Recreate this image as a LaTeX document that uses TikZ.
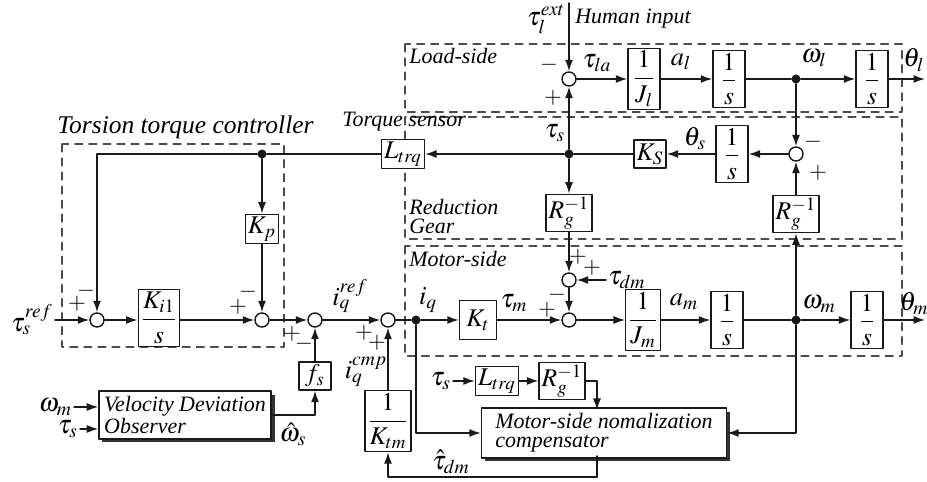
\documentclass[tikz,border=0pt]{standalone}
\usepackage{amsmath}
\usepackage{mathptmx}
\usepackage{fontspec}
\setmainfont{Liberation Serif}
\usepackage{tikz}
\usetikzlibrary{arrows.meta,shadows}
\tikzset{
every picture/.style={line cap=round,line join=round},
>={Latex[length=2.3mm,width=1.6mm]},
wire/.style={draw=black!90, line width=0.85pt},
sig/.style={wire, ->},
blk/.style={
  draw=black!90,
  line width=0.8pt,
  fill=white,
  inner sep=1.5pt,
  minimum width=0.64cm,
  minimum height=0.56cm,
  font=\fontsize{14.5}{14.5}\selectfont
},
sumnode/.style={circle, draw=black!90, line width=0.8pt, fill=white, minimum size=0.28cm, inner sep=0pt},
dotnode/.style={circle, fill=black!90, minimum size=0.18cm, inner sep=0pt},
region/.style={draw=black!70, line width=0.6pt, dash pattern=on 4.5pt off 3.5pt},
region label/.style={font=\itshape\fontsize{12.5}{10.5}\selectfont, inner sep=0pt, align=left},
sig label/.style={font=\fontsize{15}{15}\selectfont, inner sep=1pt},
sgn/.style={font=\fontsize{13}{13}\selectfont, inner sep=0pt},
shadow box/.style={
  draw=black!90,
  line width=0.8pt,
  fill=white,
  align=left,
  inner sep=3pt,
  font=\itshape\fontsize{12.5}{11}\selectfont,
  drop shadow={shadow xshift=0.07cm, shadow yshift=-0.07cm, opacity=1, fill=black!80}
}
}

\begin{document}
\begin{tikzpicture}[x=0.02cm,y=-0.02cm]
\useasboundingbox (0,0) rectangle (927,482);
% dashed regions
\draw[region] (62,144) rectangle (284,347);
\draw[region] (405,44) rectangle (902,112);
\draw[region] (405,117) rectangle (902,239);
\draw[region] (405,246) rectangle (902,356);
\node[region label,anchor=base west,font=\itshape\fontsize{14.5}{14.5}\selectfont] (lbtor) at (57,134) {Torsion torque controller};
\node[region label,anchor=base west] (lbsen) at (342,127) {Torque sensor};
\node[region label,anchor=base west] (lbload) at (409,64) {Load-side};
\node[region label,anchor=north west] (lbgear) at (409,199) {Reduction\\Gear};
\node[region label,anchor=base west] (lbmot) at (409,267) {Motor-side};
\node[region label,anchor=base west] (lbhum) at (575,24) {Human input};

% load side
\coordinate (extin) at (569,3);
\node[sumnode] (ls) at (569,79) {};
\node[blk] (jl) at (644,79) {$\dfrac{1}{J_l}$};
\node[blk] (il) at (729,79) {$\dfrac{1}{s}$};
\node[dotnode] (dwl) at (796,79) {};
\node[blk] (ithl) at (872,79) {$\dfrac{1}{s}$};
\coordinate (thlout) at (925,79);

% reduction gear
\node[blk] (lt1) at (403,154) {$L_{trq}$};
\node[dotnode] (dkp) at (262,154) {};
\node[dotnode] (dts) at (569,154) {};
\node[blk] (ks) at (650,154) {$K_S$};
\node[blk] (is) at (732,154) {$\dfrac{1}{s}$};
\node[sumnode] (sr) at (796,154) {};
\node[blk] (rg1) at (569,213) {$R_g^{-1}$};
\node[blk] (rg2) at (796,214) {$R_g^{-1}$};

% motor side and controller
\node[sumnode] (sd) at (569,280) {};
\node[sig label,anchor=west] (tdmin) at (606,280) {$\tau_{dm}$};
\node[sig label,anchor=east] (tsref) at (55,320) {$\tau_s^{ref}$};
\node[sumnode] (s1) at (97,320) {};
\node[blk] (ki) at (159,318) {$\dfrac{K_{i1}}{s}$};
\node[blk] (kp) at (262,229) {$K_p$};
\node[sumnode] (s2) at (262,320) {};
\node[sumnode] (s3) at (315,320) {};
\node[sumnode] (s4) at (388,320) {};
\node[dotnode] (diq) at (416,320) {};
\node[blk,minimum height=0.78cm,minimum width=0.74cm] (kt) at (478,320) {$K_t$};
\node[sumnode] (sm) at (569,320) {};
\node[blk] (jm) at (643,320) {$\dfrac{1}{J_m}$};
\node[blk] (im) at (727,320) {$\dfrac{1}{s}$};
\node[dotnode] (dwm) at (796,320) {};
\node[blk] (ithm) at (867,320) {$\dfrac{1}{s}$};
\coordinate (thmout) at (925,320);

% compensation
\node[blk] (fs) at (315,376) {$f_s$};
\node[blk] (ktm) at (388,421) {$\dfrac{1}{K_{tm}}$};
\node[shadow box,minimum width=3.2cm,minimum height=0.92cm] (obs) at (185,415) {Velocity Deviation\\Observer};
\node[sig label,anchor=east] (wmo) at (74,407) {$\omega_m$};
\node[sig label,anchor=east] (tso) at (80,429) {$\tau_s$};
\node[sig label,anchor=east] (tsl) at (453,381) {$\tau_s$};
\node[blk] (lt2) at (497,381) {$L_{trq}$};
\node[blk] (rg3) at (562,381) {$R_g^{-1}$};
\node[shadow box,minimum width=4.9cm,minimum height=0.92cm] (cmp) at (604,433) {Motor-side nomalization\\compensator};
\coordinate (cmpin) at (597,410);
\coordinate (cmpout) at (597,456);
\coordinate (tdmc) at (597,477);

% signal labels
\node[sig label,anchor=north east] at (567,3) {$\tau_l^{ext}$};
\node[sig label] at (597,63) {$\tau_{la}$};
\node[sig label] at (681,62) {$a_l$};
\node[sig label] at (814,58) {$\omega_l$};
\node[sig label] at (914,60) {$\theta_l$};
\node[sig label] at (555,133) {$\tau_s$};
\node[sig label] at (695,139) {$\theta_s$};
\node[sig label] at (514,303) {$\tau_m$};
\node[sig label] at (684,302) {$a_m$};
\node[sig label] at (819,304) {$\omega_m$};
\node[sig label] at (914,304) {$\theta_m$};
\node[sig label] at (350,296) {$i_q^{ref}$};
\node[sig label] at (428,300) {$i_q$};
\node[sig label] at (366,372) {$i_q^{cmp}$};
\node[sig label] at (293,434) {$\hat{\omega}_s$};
\node[sig label] at (451,462) {$\hat{\tau}_{dm}$};

% signs
\node[sgn] at (77,304) {$+$};
\node[sgn] at (86,291) {$-$};
\node[sgn] at (238,307) {$+$};
\node[sgn] at (248,292) {$-$};
\node[sgn] at (292,334) {$+$};
\node[sgn] at (304,344) {$-$};
\node[sgn] at (364,333) {$+$};
\node[sgn] at (377,343) {$+$};
\node[sgn] at (547,310) {$+$};
\node[sgn] at (557,295) {$-$};
\node[sgn] at (578,257) {$+$};
\node[sgn] at (592,268) {$+$};
\node[sgn] at (549,65) {$-$};
\node[sgn] at (553,98) {$+$};
\node[sgn] at (813,142) {$-$};
\node[sgn] at (818,173) {$+$};

% load side connectors
\draw[sig] (extin) -- (ls);
\draw[sig] (ls) -- (jl);
\draw[sig] (jl) -- (il);
\draw[wire] (il) -- (dwl);
\draw[sig] (dwl) -- (ithl);
\draw[sig] (ithl) -- (thlout);
\draw[sig] (dwl) -- (sr);

% reduction gear connectors
\draw[sig] (rg2) -- (sr);
\draw[sig] (sr) -- (is);
\draw[sig] (is) -- (ks);
\draw[wire] (ks) -- (dts);
\draw[sig] (dts) -- (lt1);
\draw[sig] (dts) -- (ls);
\draw[sig] (dts) -- (rg1);
\draw[sig] (rg1) -- (sd);
\draw[sig] (tdmin) -- (sd);
\draw[sig] (sd) -- (sm);

% controller connectors
\draw[wire] (lt1) -- (dkp);
\draw[sig] (dkp) -| (s1);
\draw[sig] (dkp) -- (kp);
\draw[sig] (kp) -- (s2);
\draw[sig] (tsref) -- (s1);
\draw[sig] (s1) -- (s1 -| ki.west);
\draw[sig] (ki.east |- s2) -- (s2);
\draw[sig] (s2) -- (s3);
\draw[sig] (s3) -- (s4);
\draw[wire] (s4) -- (diq);
\draw[sig] (diq) -- (kt);
\draw[sig] (kt) -- (sm);
\draw[sig] (sm) -- (jm);
\draw[sig] (jm) -- (im);
\draw[wire] (im) -- (dwm);
\draw[sig] (dwm) -- (ithm);
\draw[sig] (ithm) -- (thmout);
\draw[sig] (dwm) -- (rg2);

% compensation connectors
\draw[sig] (wmo) -- (wmo -| obs.west);
\draw[sig] (tso) -- (tso -| obs.west);
\draw[sig] (obs) -| (fs);
\draw[sig] (fs) -- (s3);
\draw[sig] (ktm) -- (s4);
\draw[sig] (diq) |- (cmp);
\draw[sig] (dwm) |- (cmp);
\draw[sig] (tsl) -- (lt2);
\draw[sig] (lt2) -- (rg3);
\draw[sig] (rg3) -| (cmpin);
\draw[wire] (cmpout) -- (tdmc);
\draw[sig] (tdmc) -| (ktm);
\end{tikzpicture}
\end{document}
